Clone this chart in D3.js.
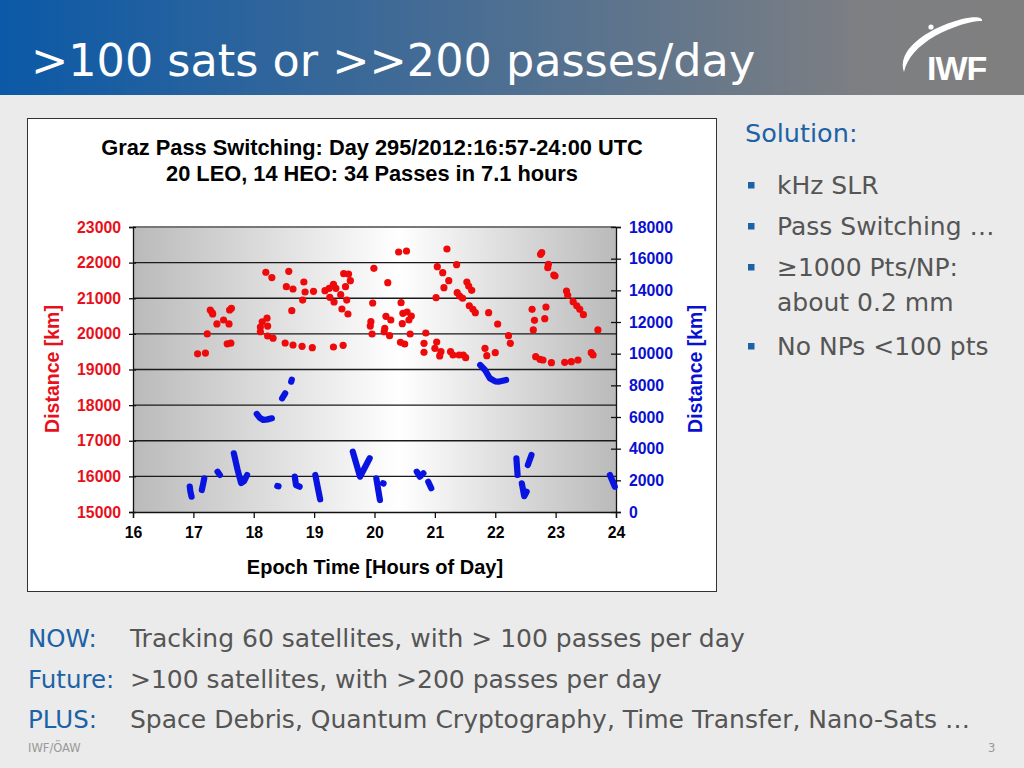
<!DOCTYPE html>
<html>
<head>
<meta charset="utf-8">
<script src="https://cdn.jsdelivr.net/npm/d3@7"></script>
<style>
  body { margin: 0; background: #ebebeb; }
  svg text { font-family: "DejaVu Sans", sans-serif; }
  .chart text { font-family: "Liberation Sans", Arial, sans-serif; font-weight: bold; }
</style>
</head>
<body>
<svg id="slide" width="1024" height="768"></svg>
<script>
// red points, left axis (HEO, km)
var heoHour = [17.07, 17.2, 17.23, 17.28, 17.31, 17.32, 17.39, 17.5, 17.59, 17.6, 17.63, 17.56, 17.62,
    18.14, 18.11, 18.11, 18.22, 18.23, 18.23, 18.32, 18.2, 18.3, 18.58, 18.54, 18.65, 18.63,
    18.52, 18.65, 18.8, 18.97, 19.32, 19.48, 18.83, 18.85, 18.99, 18.81,
    19.18, 19.25, 19.32, 19.36, 19.26, 19.33, 19.44, 19.54, 19.52, 19.49, 19.57, 19.6, 19.46, 19.56,
    19.99, 19.97, 19.94, 19.93, 19.96, 20.22, 20.19, 20.27, 20.17, 20.16, 20.25,
    20.44, 20.47, 20.54, 20.57, 20.61, 20.46, 20.59, 20.43, 20.5, 20.4, 20.53,
    21.2, 21.04, 21.13, 21.23, 21.15, 21.02, 21.36, 21.53, 21.56, 21.61, 21.37, 21.41, 21.46,
    21.57, 21.63, 21.67, 21.89, 22.04, 22.22, 22.25, 20.85, 20.82, 20.82, 21.03, 21.0, 21.1, 21.08,
    21.26, 21.3, 21.4, 21.47, 21.51, 21.83, 21.86, 22.0,
    22.75, 22.77, 22.88, 22.87, 22.97, 22.99, 23.18, 23.2, 23.29, 23.35, 23.4, 23.46,
    22.61, 22.84, 22.65, 22.82, 22.63, 23.7, 22.67, 22.74, 22.79, 22.93, 23.15, 23.26, 23.37, 23.59, 23.62];
var heoDist = [19440, 19460, 20000, 20670, 20600, 20560, 20280, 20390, 20280, 20670, 20720, 19720, 19740,
    20340, 20190, 20060, 20440, 20220, 19940, 19880, 21730, 21580, 21755, 21325, 21260, 20650,
    19744, 19688, 19651, 19612, 19632, 19680, 21456, 21175, 21195, 20950,
    21212, 21279, 21390, 21279, 21027, 20895, 21100, 20950, 21324, 21689, 21680, 21493, 20698, 20558,
    21840, 20867, 20342, 20220, 19997, 21437, 20493, 20390, 20156, 20060, 19950,
    20875, 20577, 20614, 20390, 20502, 20286, 19997, 19764, 19716, 22298, 22326,
    22382, 21886, 21717, 21493, 21296, 21015, 21942, 21456, 21344, 21223, 21157, 21063, 21000,
    20790, 20690, 20594, 20594, 20277, 19950, 19735, 20025, 19735, 19483, 19772, 19595, 19500, 19380,
    19500, 19407, 19407, 19407, 19331, 19595, 19388, 19472,
    22234, 22279, 21953, 21858, 21653, 21625, 21204, 21083, 20904, 20790, 20690, 20540,
    20690, 20755, 20381, 20427, 20110, 20110, 19359, 19285, 19267, 19192, 19201, 19220, 19267, 19472, 19407];

// blue passes, right axis (LEO, km): [hour, km]
var leoPasses = [
    [[16.94, 1600], [16.95, 1300], [16.97, 966]],
    [[17.14, 1390], [17.16, 1750], [17.18, 2128]],
    [[17.4, 2545], [17.44, 2337]],
    [[17.67, 3707], [17.73, 2700], [17.79, 1832], [17.84, 1950], [17.89, 2337]],
    [[18.05, 6190], [18.1, 5950], [18.16, 5810], [18.23, 5850], [18.3, 5918]],
    [[18.47, 7181], [18.52, 7497]],
    [[18.62, 8230], [18.63, 8350]],
    [[18.39, 1642], [18.41, 1620]],
    [[18.68, 2230], [18.7, 1700], [18.76, 1600]],
    [[19.02, 2337], [19.06, 1550], [19.1, 802]],
    [[19.64, 3808], [19.76, 2230], [19.92, 3392]],
    [[20.03, 2128], [20.09, 758]],
    [[20.14, 1813], [20.15, 1800]],
    [[20.7, 2545], [20.75, 2230], [20.81, 2444]],
    [[20.89, 1914], [20.94, 1497]],
    [[21.75, 9284], [21.83, 8970], [21.91, 8446], [22.0, 8250], [22.05, 8230], [22.18, 8337]],
    [[22.35, 3391], [22.37, 2337]],
    [[22.44, 1813], [22.48, 1000], [22.52, 1282]],
    [[22.54, 2970], [22.6, 3600]],
    [[23.9, 2337], [23.98, 1600]]
];

var xTicks = [16, 17, 18, 19, 20, 21, 22, 23, 24];
var leftTicks = [15000, 16000, 17000, 18000, 19000, 20000, 21000, 22000, 23000];
var rightTicks = [0, 2000, 4000, 6000, 8000, 10000, 12000, 14000, 16000, 18000];

var svg = d3.select("#slide");
var defs = svg.append("defs");

// header
var hg = defs.append("linearGradient").attr("id", "hdr");
hg.append("stop").attr("offset", "0").attr("stop-color", "#0b59a7");
hg.append("stop").attr("offset", "0.85").attr("stop-color", "#7e7f82");
hg.append("stop").attr("offset", "1").attr("stop-color", "#7f7f7f");

svg.append("rect").attr("width", 1024).attr("height", 768).attr("fill", "#ebebeb");
svg.append("rect").attr("width", 1024).attr("height", 95).attr("fill", "url(#hdr)");
svg.append("text").attr("x", 31).attr("y", 76)
    .attr("fill", "#fff").style("font-size", "44.5px")
    .text(">100 sats or >>200 passes/day");

// logo
svg.append("path")
    .attr("d", "M904,72 C897,52 922,30 962,19 C975,16 983,17 982,21 C975,20 955,25 935,36 C918,46 907,58 904,72 Z")
    .attr("fill", "#fff");
svg.append("circle").attr("cx", 931).attr("cy", 27).attr("r", 2.6).attr("fill", "#fff");
svg.append("text").attr("x", 927).attr("y", 80).attr("fill", "#fff")
    .style("font-family", "Liberation Sans, sans-serif").style("font-weight", "bold")
    .style("font-size", "34px").style("letter-spacing", "-1px").text("IWF");

// chart box
var chart = svg.append("g").attr("class", "chart");
chart.append("rect").attr("x", 27.5).attr("y", 118.5).attr("width", 689).attr("height", 473)
    .attr("fill", "#fff").attr("stroke", "#333").attr("stroke-width", 1);

chart.append("text").attr("x", 372).attr("y", 155).attr("text-anchor", "middle")
    .style("font-size", "21.8px").text("Graz Pass Switching: Day 295/2012:16:57-24:00 UTC");
chart.append("text").attr("x", 372).attr("y", 181).attr("text-anchor", "middle")
    .style("font-size", "21.8px").text("20 LEO, 14 HEO: 34 Passes in 7.1 hours");

var x = d3.scaleLinear().domain([16, 24]).range([133, 616]);
var yL = d3.scaleLinear().domain([15000, 23000]).range([512, 227]);
var yR = d3.scaleLinear().domain([0, 18000]).range([512, 227]);

var pg = defs.append("linearGradient").attr("id", "plotbg");
pg.append("stop").attr("offset", "0").attr("stop-color", "#bababa");
pg.append("stop").attr("offset", "0.55").attr("stop-color", "#ffffff");
pg.append("stop").attr("offset", "1").attr("stop-color", "#bababa");

chart.append("rect").attr("x", x(16)).attr("y", yL(23000))
    .attr("width", x(24) - x(16)).attr("height", yL(15000) - yL(23000))
    .attr("fill", "url(#plotbg)");

// gridlines
chart.selectAll(".grid").data(leftTicks.slice(1)).enter().append("line")
    .attr("class", "grid")
    .attr("x1", x(16)).attr("x2", x(24))
    .attr("y1", function(d) { return yL(d); }).attr("y2", function(d) { return yL(d); })
    .attr("stroke", function(d) { return d == 23000 ? "#777" : "#1a1a1a"; })
    .attr("stroke-width", function(d) { return d == 23000 ? 2 : 1.3; });

// axes
var fmt = d3.format("d");
var gL = chart.append("g").attr("transform", "translate(" + x(16) + ",0)")
    .call(d3.axisLeft(yL).tickValues(leftTicks).tickFormat(fmt).tickSize(4).tickPadding(8));
gL.selectAll("line").attr("x1", 3).attr("x2", -4);
gL.selectAll("text").attr("fill", "#e8101a");

var gR = chart.append("g").attr("transform", "translate(" + x(24) + ",0)")
    .call(d3.axisRight(yR).tickValues(rightTicks).tickFormat(fmt).tickSize(5).tickPadding(8));
gR.selectAll("line").attr("x1", -5).attr("x2", 5);
gR.selectAll("text").attr("fill", "#0a10d0").attr("x", 13);

var gX = chart.append("g").attr("transform", "translate(0," + yL(15000) + ")")
    .call(d3.axisBottom(x).tickValues(xTicks).tickSize(6).tickPadding(9));
gX.selectAll("text").attr("fill", "#000");

chart.selectAll(".tick text").style("font-size", "15.8px").style("font-weight", "bold")
    .style("font-family", "Liberation Sans, Arial, sans-serif");
chart.selectAll(".domain").attr("stroke", "#111").attr("stroke-width", 1.3);
chart.selectAll(".tick line").attr("stroke", "#111").attr("stroke-width", 1.3);

// axis titles
chart.append("text").attr("transform", "translate(59,369) rotate(-90)").attr("text-anchor", "middle")
    .attr("fill", "#e8101a").style("font-size", "19.5px").text("Distance [km]");
chart.append("text").attr("transform", "translate(702,369) rotate(-90)").attr("text-anchor", "middle")
    .attr("fill", "#0a10d0").style("font-size", "19.5px").text("Distance [km]");
chart.append("text").attr("x", 375).attr("y", 574).attr("text-anchor", "middle")
    .style("font-size", "20px").text("Epoch Time [Hours of Day]");

// blue passes
var line = d3.line().x(function(d) { return x(d[0]); }).y(function(d) { return yR(d[1]); });
chart.selectAll(".leo").data(leoPasses).enter().append("path")
    .attr("class", "leo")
    .attr("d", line)
    .attr("fill", "none").attr("stroke", "#0a14e0").attr("stroke-width", 6.2)
    .attr("stroke-linecap", "round").attr("stroke-linejoin", "round");

// red points
chart.selectAll(".heo").data(heoHour).enter().append("circle")
    .attr("class", "heo")
    .attr("cx", function(d) { return x(d); })
    .attr("cy", function(d, i) { return yL(heoDist[i]); })
    .attr("r", 3.6).attr("fill", "#ee0a0a");

// right side text
var blue = "#1c62a6", grey = "#555";
svg.append("text").attr("x", 745).attr("y", 142).attr("fill", blue).style("font-size", "25.5px").text("Solution:");
var bullets = [["kHz SLR", 194, true], ["Pass Switching \u2026", 235, true], ["\u22651000 Pts/NP:", 276, true],
    ["about 0.2 mm", 311, false], ["No NPs <100 pts", 355, true]];
bullets.forEach(function(b) {
    if (b[2]) svg.append("rect").attr("x", 748).attr("y", b[1] - 12).attr("width", 6.5).attr("height", 6.5).attr("fill", blue);
    svg.append("text").attr("x", 777).attr("y", b[1]).attr("fill", grey).style("font-size", "25px").text(b[0]);
});

// bottom text
var rows = [["NOW:", "Tracking 60 satellites, with > 100 passes per day", 647],
    ["Future:", ">100 satellites, with >200 passes per day", 688],
    ["PLUS:", "Space Debris, Quantum Cryptography, Time Transfer, Nano-Sats \u2026", 728]];
rows.forEach(function(r) {
    svg.append("text").attr("x", 28).attr("y", r[2]).attr("fill", blue).style("font-size", "24.5px").text(r[0]);
    svg.append("text").attr("x", 130).attr("y", r[2]).attr("fill", grey).style("font-size", "25px").text(r[1]);
});

svg.append("text").attr("x", 28).attr("y", 752).attr("fill", "#999").style("font-size", "11.5px").text("IWF/\u00d6AW");
svg.append("text").attr("x", 988).attr("y", 752).attr("fill", "#999").style("font-size", "11.5px").text("3");
</script>
</body>
</html>
